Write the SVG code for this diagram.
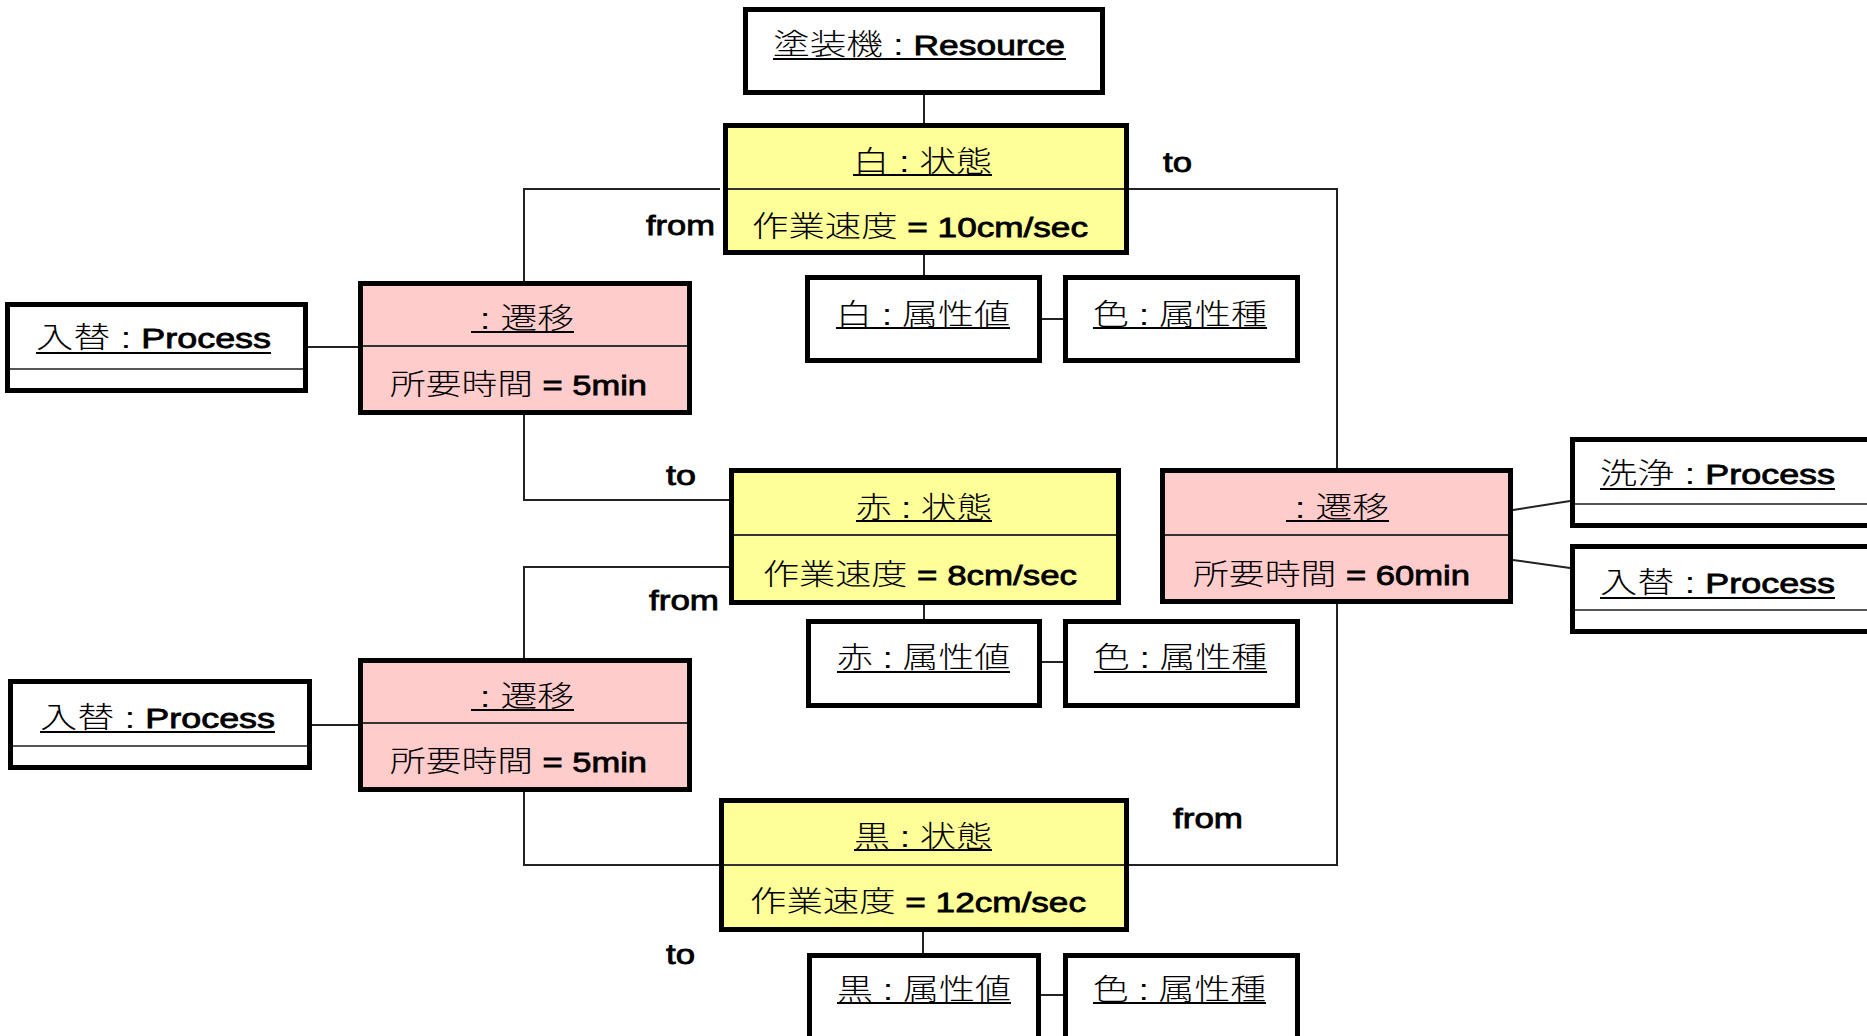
<svg xmlns="http://www.w3.org/2000/svg" width="1867" height="1036" viewBox="0 0 1867 1036">
  <style>
    .box { stroke: #000; stroke-width: 5; }
    .state { fill: #ffff99; }
    .trans { fill: #ffcccc; }
    .plain { fill: #ffffff; }
    .div { stroke: #333; stroke-width: 2; }
    .pdiv { stroke: #555; stroke-width: 2; }
    .ul { stroke: #000; stroke-width: 2; }
    .t { font-family: "Liberation Sans", "Noto Sans CJK JP", sans-serif; font-size: 29px; font-weight: 300; fill: #000; }
    .b { font-weight: normal; font-size: 28px; stroke: #000; stroke-width: 0.8; }
    #connectors path, #connectors line { stroke: #222; stroke-width: 2; fill: none; }
  </style>

  <rect width="1867" height="1036" fill="#ffffff"/>

  <!-- links between objects -->
  <g id="connectors">
    <line x1="924" y1="95" x2="924" y2="123"/>
    <line x1="924" y1="255" x2="924" y2="275"/>
    <line x1="1042" y1="319" x2="1063" y2="319"/>
    <path d="M720,189 H524 V281"/>
    <path d="M1129,189 H1337 V468"/>
    <line x1="308" y1="347" x2="358" y2="347"/>
    <path d="M524,415 V500 H729"/>
    <path d="M729,567 H524 V658"/>
    <line x1="924" y1="605" x2="924" y2="619"/>
    <line x1="1042" y1="662" x2="1063" y2="662"/>
    <line x1="1513" y1="510" x2="1570" y2="501"/>
    <line x1="1513" y1="560" x2="1570" y2="568"/>
    <path d="M1337,604 V865 H1129"/>
    <line x1="312" y1="725" x2="358" y2="725"/>
    <path d="M524,792 V865 H719"/>
    <line x1="923" y1="932" x2="923" y2="953"/>
    <line x1="1041" y1="995" x2="1063" y2="995"/>

    <!-- role names -->
    <text class="t b" x="646" y="235" textLength="69" lengthAdjust="spacingAndGlyphs">from</text>
    <text class="t b" x="1163" y="172" textLength="29" lengthAdjust="spacingAndGlyphs">to</text>
    <text class="t b" x="666" y="485" textLength="30" lengthAdjust="spacingAndGlyphs">to</text>
    <text class="t b" x="649" y="610" textLength="70" lengthAdjust="spacingAndGlyphs">from</text>
    <text class="t b" x="1173" y="828" textLength="70" lengthAdjust="spacingAndGlyphs">from</text>
    <text class="t b" x="666" y="964" textLength="29" lengthAdjust="spacingAndGlyphs">to</text>
  </g>

  <!-- resource -->
  <g id="resource">
    <rect class="box plain" x="745.5" y="9.5" width="357" height="83"/>
    <text class="t" x="773" y="55" textLength="292" lengthAdjust="spacingAndGlyphs">塗装機 : <tspan class="b">Resource</tspan></text>
    <line class="ul" x1="773" y1="59" x2="1066" y2="59"/>
  </g>

  <!-- states -->
  <g id="state-white">
    <rect class="box state" x="725.5" y="125.5" width="401" height="127"/>
    <line class="div" x1="728" y1="189" x2="1124" y2="189"/>
    <text class="t" x="853" y="172" textLength="139" lengthAdjust="spacingAndGlyphs">白 : 状態</text>
    <line class="ul" x1="853" y1="175" x2="992" y2="175"/>
    <text class="t" x="752" y="237" textLength="336" lengthAdjust="spacingAndGlyphs">作業速度<tspan class="b"> = 10cm/sec</tspan></text>
  </g>

  <g id="state-red">
    <rect class="box state" x="731.5" y="470.5" width="387" height="132"/>
    <line class="div" x1="734" y1="535" x2="1116" y2="535"/>
    <text class="t" x="856" y="518" textLength="136" lengthAdjust="spacingAndGlyphs">赤 : 状態</text>
    <line class="ul" x1="856" y1="521" x2="992" y2="521"/>
    <text class="t" x="763" y="585" textLength="314" lengthAdjust="spacingAndGlyphs">作業速度<tspan class="b"> = 8cm/sec</tspan></text>
  </g>

  <g id="state-black">
    <rect class="box state" x="721.5" y="800.5" width="405" height="129"/>
    <line class="div" x1="724" y1="865" x2="1124" y2="865"/>
    <text class="t" x="854" y="847" textLength="138" lengthAdjust="spacingAndGlyphs">黒 : 状態</text>
    <line class="ul" x1="854" y1="850" x2="992" y2="850"/>
    <text class="t" x="750" y="912" textLength="336" lengthAdjust="spacingAndGlyphs">作業速度<tspan class="b"> = 12cm/sec</tspan></text>
  </g>

  <!-- attribute values and kinds -->
  <g id="value-white">
    <rect class="box plain" x="807.5" y="277.5" width="232" height="83"/>
    <text class="t" x="836" y="325" textLength="174" lengthAdjust="spacingAndGlyphs">白 : 属性値</text>
    <line class="ul" x1="836" y1="328" x2="1010" y2="328"/>
  </g>
  <g id="kind-1">
    <rect class="box plain" x="1065.5" y="277.5" width="232" height="83"/>
    <text class="t" x="1093" y="325" textLength="174" lengthAdjust="spacingAndGlyphs">色 : 属性種</text>
    <line class="ul" x1="1093" y1="328" x2="1267" y2="328"/>
  </g>

  <g id="value-red">
    <rect class="box plain" x="808.5" y="621.5" width="231" height="84"/>
    <text class="t" x="837" y="668" textLength="173" lengthAdjust="spacingAndGlyphs">赤 : 属性値</text>
    <line class="ul" x1="837" y1="672" x2="1010" y2="672"/>
  </g>
  <g id="kind-2">
    <rect class="box plain" x="1065.5" y="621.5" width="232" height="84"/>
    <text class="t" x="1094" y="668" textLength="173" lengthAdjust="spacingAndGlyphs">色 : 属性種</text>
    <line class="ul" x1="1094" y1="672" x2="1267" y2="672"/>
  </g>

  <g id="value-black">
    <rect class="box plain" x="809.5" y="955.5" width="229" height="100"/>
    <text class="t" x="837" y="1000" textLength="174" lengthAdjust="spacingAndGlyphs">黒 : 属性値</text>
    <line class="ul" x1="837" y1="1003" x2="1011" y2="1003"/>
  </g>
  <g id="kind-3">
    <rect class="box plain" x="1065.5" y="955.5" width="232" height="100"/>
    <text class="t" x="1093" y="1000" textLength="173" lengthAdjust="spacingAndGlyphs">色 : 属性種</text>
    <line class="ul" x1="1093" y1="1003" x2="1266" y2="1003"/>
  </g>

  <!-- transitions -->
  <g id="transition-white-red">
    <rect class="box trans" x="360.5" y="283.5" width="329" height="129"/>
    <line class="div" x1="363" y1="346" x2="687" y2="346"/>
    <text class="t" x="480" y="329" textLength="94" lengthAdjust="spacingAndGlyphs">: 遷移</text>
    <line class="ul" x1="471" y1="332" x2="574" y2="332"/>
    <text class="t" x="390" y="395" textLength="257" lengthAdjust="spacingAndGlyphs">所要時間<tspan class="b"> = 5min</tspan></text>
  </g>

  <g id="transition-red-black">
    <rect class="box trans" x="360.5" y="660.5" width="329" height="129"/>
    <line class="div" x1="363" y1="723" x2="687" y2="723"/>
    <text class="t" x="480" y="707" textLength="94" lengthAdjust="spacingAndGlyphs">: 遷移</text>
    <line class="ul" x1="471" y1="710" x2="574" y2="710"/>
    <text class="t" x="390" y="772" textLength="257" lengthAdjust="spacingAndGlyphs">所要時間<tspan class="b"> = 5min</tspan></text>
  </g>

  <g id="transition-black-white">
    <rect class="box trans" x="1162.5" y="470.5" width="348" height="131"/>
    <line class="div" x1="1165" y1="535" x2="1508" y2="535"/>
    <text class="t" x="1295" y="518" textLength="94" lengthAdjust="spacingAndGlyphs">: 遷移</text>
    <line class="ul" x1="1286" y1="521" x2="1389" y2="521"/>
    <text class="t" x="1193" y="585" textLength="277" lengthAdjust="spacingAndGlyphs">所要時間<tspan class="b"> = 60min</tspan></text>
  </g>

  <!-- processes -->
  <g id="process-swap-1">
    <rect class="box plain" x="7.5" y="304.5" width="298" height="86"/>
    <line class="pdiv" x1="10" y1="369" x2="303" y2="369"/>
    <text class="t" x="36" y="348" textLength="235" lengthAdjust="spacingAndGlyphs">入替 : <tspan class="b">Process</tspan></text>
    <line class="ul" x1="36" y1="353" x2="271" y2="353"/>
  </g>

  <g id="process-swap-2">
    <rect class="box plain" x="10.5" y="681.5" width="299" height="86"/>
    <line class="pdiv" x1="13" y1="746" x2="307" y2="746"/>
    <text class="t" x="40" y="728" textLength="235" lengthAdjust="spacingAndGlyphs">入替 : <tspan class="b">Process</tspan></text>
    <line class="ul" x1="40" y1="732" x2="275" y2="732"/>
  </g>

  <g id="process-wash">
    <rect class="box plain" x="1572.5" y="439.5" width="320" height="86"/>
    <line class="pdiv" x1="1575" y1="504" x2="1867" y2="504"/>
    <text class="t" x="1600" y="484" textLength="235" lengthAdjust="spacingAndGlyphs">洗浄 : <tspan class="b">Process</tspan></text>
    <line class="ul" x1="1600" y1="489" x2="1835" y2="489"/>
  </g>

  <g id="process-swap-3">
    <rect class="box plain" x="1572.5" y="546.5" width="320" height="85"/>
    <line class="pdiv" x1="1575" y1="610" x2="1867" y2="610"/>
    <text class="t" x="1600" y="593" textLength="235" lengthAdjust="spacingAndGlyphs">入替 : <tspan class="b">Process</tspan></text>
    <line class="ul" x1="1600" y1="598" x2="1835" y2="598"/>
  </g>
</svg>
